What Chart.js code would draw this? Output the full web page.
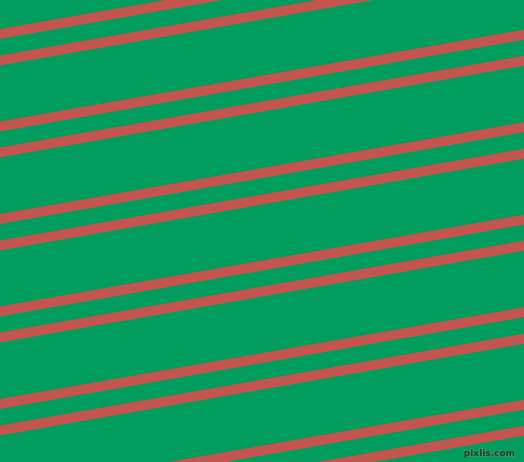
<!DOCTYPE html>
<html>
<head>
<meta charset="utf-8">
<script src="https://cdn.jsdelivr.net/npm/chart.js@4"></script>
<style>
html,body{margin:0;padding:0;background:#009D5E;overflow:hidden;}
#wrap{width:524px;height:462px;position:relative;}
</style>
</head>
<body>
<div id="wrap"><canvas id="c" width="524" height="462"></canvas></div>
<script>
// x positions where each stripe is sampled (left edge, right edge)
const xPositions = [0, 524];
// y of each stripe at the left edge and at the right edge
const stripeLeftY  = [34, 60.5, 126.5, 152.5, 219, 245.5, 311.5, 337.5, 404, 430.5, 496.5, 522.5];
const stripeRightY = [-57.7, -31.2, 34.8, 60.8, 127.3, 153.8, 219.8, 245.8, 312.3, 338.8, 404.8, 430.8];
const watermark = 'pixlis.com';

const bgColor = '#009D5E';
const stripeColor = '#C5544E';

const datasets = stripeLeftY.map((y0, i) => ({
  label: 'stripe ' + (i + 1),
  data: [{x: xPositions[0], y: y0}, {x: xPositions[1], y: stripeRightY[i]}],
  borderColor: stripeColor,
  backgroundColor: stripeColor,
  borderWidth: 9.8,
  borderCapStyle: 'square',
  pointRadius: 0,
  showLine: true,
  fill: false,
  tension: 0,
  clip: 0
}));

const bgPlugin = {
  id: 'bg',
  beforeDraw(chart) {
    const ctx = chart.ctx;
    ctx.save();
    ctx.fillStyle = bgColor;
    ctx.fillRect(0, 0, chart.width, chart.height);
    ctx.restore();
  },
  afterDraw(chart) {
    const ctx = chart.ctx;
    ctx.save();
    ctx.font = 'bold 9px "DejaVu Sans", sans-serif';
    ctx.textAlign = 'right';
    ctx.textBaseline = 'alphabetic';
    ctx.lineWidth = 2;
    ctx.strokeStyle = 'rgba(60,150,100,0.9)';
    ctx.strokeText(watermark, 515, 456);
    ctx.fillStyle = '#14492f';
    ctx.fillText(watermark, 515, 456);
    ctx.restore();
  }
};

new Chart(document.getElementById('c'), {
  type: 'scatter',
  data: { datasets },
  options: {
    responsive: false,
    animation: false,
    events: [],
    layout: { padding: 0 },
    plugins: { legend: { display: false }, tooltip: { enabled: false } },
    scales: {
      x: { type: 'linear', min: 0, max: 524, display: false },
      y: { type: 'linear', min: 0, max: 462, reverse: true, display: false }
    }
  },
  plugins: [bgPlugin]
});
</script>
</body>
</html>
